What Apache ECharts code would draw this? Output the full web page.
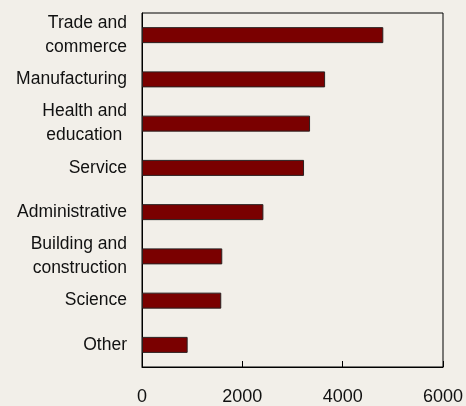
<!DOCTYPE html>
<html>
<head>
<meta charset="utf-8">
<script src="https://cdn.jsdelivr.net/npm/echarts@6/dist/echarts.min.js"></script>
<style>
  html, body { margin: 0; padding: 0; background: #f2efe9; }
  #chart { width: 466px; height: 406px; }
</style>
</head>
<body>
<div id="chart"></div>
<script>
// sectors, top to bottom
var categories = [
  'Trade and\ncommerce',
  'Manufacturing',
  'Health and\neducation ',
  'Service',
  'Administrative',
  'Building and\nconstruction',
  'Science',
  'Other'
];
var values = [4810, 3650, 3350, 3230, 2420, 1600, 1580, 910];
var xTicks = [0, 2000, 4000, 6000];

var chart = echarts.init(document.getElementById('chart'));
var option = {
  backgroundColor: '#f2efe9',
  animation: false,
  grid: {
    left: 142,
    right: 23,
    top: 13,
    bottom: 39,
    outerBoundsMode: 'none',
    containLabel: false,
    show: true,
    borderColor: '#000',
    borderWidth: 1,
    backgroundColor: 'transparent'
  },
  xAxis: {
    type: 'value',
    min: xTicks[0],
    max: xTicks[xTicks.length - 1],
    interval: 2000,
    axisLine: { show: true, lineStyle: { color: '#000', width: 1 } },
    axisTick: { show: true, inside: true, length: 6, lineStyle: { color: '#000' } },
    splitLine: { show: false },
    axisLabel: {
      margin: 21,
      fontSize: 18,
      color: '#111',
      fontFamily: 'Liberation Sans, Arial, sans-serif',
      formatter: function(v) {
        return String(v);
      }
    }
  },
  yAxis: {
    type: 'category',
    inverse: true,
    data: categories,
    axisLine: { show: true, lineStyle: { color: '#000', width: 1 } },
    axisTick: { show: false },
    axisLabel: {
      margin: 15,
      fontSize: 17.5,
      lineHeight: 24,
      color: '#111',
      align: 'right',
      fontFamily: 'Liberation Sans, Arial, sans-serif'
    }
  },
  series: [
    {
      type: 'bar',
      data: values,
      barWidth: 16,
      itemStyle: {
        color: '#7a0000',
        borderColor: '#2a2020',
        borderWidth: 1
      }
    }
  ]
};
chart.setOption(option);
window.addEventListener('resize', function() {
  chart.resize();
});
</script>
</body>
</html>
